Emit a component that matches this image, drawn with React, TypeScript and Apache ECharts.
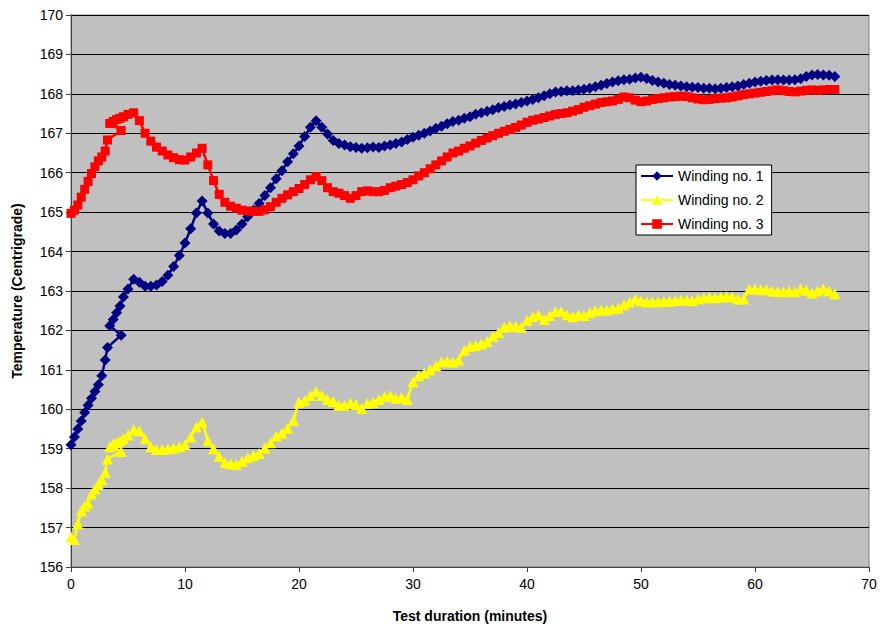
import React, { useEffect, useRef } from "react";
import * as echarts from "echarts";

const minutes = [
  0, 0.3, 0.6, 0.9, 1.2, 1.5, 1.8, 2.1, 2.4, 2.7, 3.0, 3.2, 4.4, 3.4, 3.7, 4.0, 4.3, 4.6,
  5.0, 5.5, 6.0, 6.5, 7.0, 7.5, 8.0, 8.5, 9.0, 9.5, 10.0, 10.5, 11.0, 11.5, 12.0, 12.5,
  13.0, 13.5, 14.0, 14.5, 15.0, 15.5, 16.0, 16.5, 17.0, 17.5, 18.0, 18.5, 19.0, 19.5,
  20.0, 20.5, 21.0, 21.5, 22.0, 22.5, 23.0, 23.5, 24.0, 24.5, 25.0, 25.5, 26.0, 26.5,
  27.0, 27.5, 28.0, 28.5, 29.0, 29.5, 30.0, 30.5, 31.0, 31.5, 32.0, 32.5, 33.0, 33.5,
  34.0, 34.5, 35.0, 35.5, 36.0, 36.5, 37.0, 37.5, 38.0, 38.5, 39.0, 39.5, 40.0, 40.5,
  41.0, 41.5, 42.0, 42.5, 43.0, 43.5, 44.0, 44.5, 45.0, 45.5, 46.0, 46.5, 47.0, 47.5,
  48.0, 48.5, 49.0, 49.5, 50.0, 50.5, 51.0, 51.5, 52.0, 52.5, 53.0, 53.5, 54.0, 54.5,
  55.0, 55.5, 56.0, 56.5, 57.0, 57.5, 58.0, 58.5, 59.0, 59.5, 60.0, 60.5, 61.0, 61.5,
  62.0, 62.5, 63.0, 63.5, 64.0, 64.5, 65.0, 65.5, 66.0, 66.5, 67.0,
];

const winding1 = [
  159.1, 159.3, 159.5, 159.7, 159.92, 160.1, 160.28, 160.45, 160.62, 160.85, 161.25, 161.57, 161.88, 162.12, 162.28, 162.45, 162.62, 162.85,
  163.05, 163.3, 163.22, 163.12, 163.12, 163.15, 163.24, 163.4, 163.62, 163.9, 164.22, 164.58, 164.98, 165.28, 164.98, 164.7,
  164.52, 164.46, 164.46, 164.55, 164.7, 164.88, 165.05, 165.22, 165.42, 165.62, 165.85, 166.05, 166.28, 166.48,
  166.68, 166.92, 167.15, 167.32, 167.15, 166.98, 166.82, 166.74, 166.7, 166.66, 166.64, 166.62, 166.63, 166.65,
  166.64, 166.68, 166.7, 166.74, 166.78, 166.84, 166.9, 166.95, 167.0, 167.06, 167.12, 167.18, 167.24, 167.3,
  167.33, 167.38, 167.42, 167.48, 167.52, 167.56, 167.6, 167.65, 167.68, 167.72, 167.74, 167.78, 167.82, 167.86,
  167.9, 167.95, 168.0, 168.05, 168.06, 168.08, 168.08, 168.1, 168.12, 168.14, 168.18, 168.22, 168.26, 168.3,
  168.33, 168.36, 168.37, 168.4, 168.42, 168.39, 168.34, 168.3, 168.27, 168.24, 168.22, 168.2, 168.18, 168.17,
  168.16, 168.14, 168.14, 168.13, 168.14, 168.16, 168.18, 168.2, 168.24, 168.27, 168.3, 168.32, 168.34, 168.35,
  168.36, 168.35, 168.35, 168.36, 168.38, 168.44, 168.48, 168.49, 168.48, 168.47, 168.44,
];

const winding2 = [
  156.77, 156.7, 157.1, 157.42, 157.55, 157.62, 157.85, 157.98, 158.1, 158.22, 158.4, 158.74, 158.93, 159.05, 159.12, 159.15, 159.2, 159.25,
  159.35, 159.48, 159.45, 159.25, 159.05, 158.98, 158.98, 159.0, 159.02, 159.05, 159.1, 159.3, 159.55, 159.68, 159.2, 159.0,
  158.8, 158.65, 158.62, 158.6, 158.68, 158.78, 158.82, 158.88, 159.02, 159.15, 159.32, 159.4, 159.52, 159.72,
  160.18, 160.22, 160.35, 160.45, 160.35, 160.25, 160.2, 160.1, 160.1, 160.15, 160.12, 160.02, 160.15, 160.18,
  160.25, 160.32, 160.35, 160.28, 160.3, 160.25, 160.7, 160.85, 160.92, 161.0, 161.1, 161.2, 161.22, 161.2,
  161.25, 161.5, 161.6, 161.62, 161.66, 161.72, 161.85, 161.95, 162.08, 162.12, 162.1, 162.08, 162.25, 162.35,
  162.4, 162.28, 162.38, 162.48, 162.48, 162.4, 162.35, 162.4, 162.38, 162.45, 162.5, 162.52, 162.52, 162.55,
  162.56, 162.65, 162.72, 162.8, 162.75, 162.72, 162.73, 162.73, 162.74, 162.74, 162.76, 162.77, 162.77, 162.75,
  162.8, 162.82, 162.84, 162.83, 162.85, 162.86, 162.85, 162.8, 162.8, 163.05, 163.05, 163.03, 163.04, 163.0,
  162.99, 162.98, 163.0, 162.98, 163.06, 163.02, 162.95, 163.0, 163.06, 163.0, 162.93,
];

const winding3 = [
  164.97, 165.05, 165.18, 165.38, 165.58, 165.78, 165.98, 166.15, 166.3, 166.4, 166.55, 166.83, 167.07, 167.25, 167.3, 167.35, 167.38, 167.42,
  167.48, 167.52, 167.32, 167.0, 166.8, 166.65, 166.55, 166.45, 166.38, 166.33, 166.32, 166.4, 166.5, 166.62, 166.2, 165.8,
  165.45, 165.25, 165.15, 165.1, 165.05, 165.03, 165.02, 165.02, 165.06, 165.14, 165.25, 165.35, 165.44, 165.52,
  165.6, 165.7, 165.82, 165.9, 165.8, 165.62, 165.52, 165.48, 165.42, 165.35, 165.42, 165.52, 165.54, 165.52,
  165.52, 165.55, 165.62, 165.66, 165.7, 165.75, 165.82, 165.92, 166.0, 166.1, 166.2, 166.3, 166.4, 166.5,
  166.55, 166.62, 166.68, 166.75, 166.82, 166.88, 166.94, 167.0, 167.05, 167.1, 167.15, 167.21, 167.28, 167.33,
  167.36, 167.4, 167.44, 167.48, 167.5, 167.52, 167.56, 167.6, 167.66, 167.7, 167.74, 167.78, 167.8, 167.82,
  167.86, 167.92, 167.9, 167.84, 167.8, 167.82, 167.86, 167.88, 167.9, 167.92, 167.93, 167.94, 167.93, 167.9,
  167.87, 167.85, 167.86, 167.88, 167.89, 167.9, 167.92, 167.95, 167.98, 168.0, 168.02, 168.04, 168.06, 168.08,
  168.1, 168.08, 168.06, 168.05, 168.07, 168.09, 168.1, 168.09, 168.1, 168.11, 168.11,
];

const seriesNames = ["Winding no. 1", "Winding no. 2", "Winding no. 3"];
const xTitle = "Test duration (minutes)";
const yTitle = "Temperature (Centrigrade)";

const FONT = "'Liberation Sans', Arial, sans-serif";

export default function App() {
  const ref = useRef<HTMLDivElement>(null);

  useEffect(() => {
    if (!ref.current) return;
    const chart = echarts.init(ref.current, null, { renderer: "svg" });
    const pairs = (vals: number[]) => minutes.map((m, i) => [m, vals[i]]);
    const mk = (name: string, vals: number[], color: string, symbol: string, size: number) => ({
      name,
      type: "line",
      data: pairs(vals),
      symbol,
      symbolSize: size,
      showAllSymbol: true,
      color,
      itemStyle: { color },
      lineStyle: { color, width: 2.5 },
      emphasis: { disabled: true },
    });
    chart.setOption({
      animation: false,
      backgroundColor: "#ffffff",
      textStyle: { fontFamily: FONT },
      grid: {
        left: 71,
        right: 11,
        top: 15,
        bottom: 61,
        show: true,
        backgroundColor: "#C0C0C0",
        borderColor: "#808080",
        borderWidth: 1,
      },
      legend: {
        orient: "vertical",
        left: 636,
        top: 165,
        backgroundColor: "#ffffff",
        borderColor: "#000000",
        borderWidth: 1,
        borderRadius: 0,
        padding: [4, 8, 4, 4],
        itemWidth: 32,
        itemHeight: 12,
        itemGap: 10,
        textStyle: { fontFamily: FONT, fontSize: 14, color: "#000" },
        data: seriesNames,
      },
      xAxis: {
        type: "value",
        min: 0,
        max: 70,
        interval: 10,
        name: xTitle,
        nameLocation: "middle",
        nameGap: 42,
        nameTextStyle: { fontFamily: FONT, fontSize: 14, fontWeight: "bold", color: "#000" },
        axisLine: { show: true, onZero: false, lineStyle: { color: "#404040", width: 1 } },
        axisTick: { show: true, length: 5, inside: false, lineStyle: { color: "#404040" } },
        axisLabel: { fontFamily: FONT, fontSize: 14, color: "#000", margin: 10 },
        splitLine: { show: false },
      },
      yAxis: {
        type: "value",
        min: 156,
        max: 170,
        interval: 1,
        name: yTitle,
        nameLocation: "middle",
        nameGap: 47,
        nameRotate: 90,
        nameTextStyle: { fontFamily: FONT, fontSize: 14, fontWeight: "bold", color: "#000" },
        axisLine: { show: true, onZero: false, lineStyle: { color: "#404040", width: 1 } },
        axisTick: { show: true, length: 5, inside: false, lineStyle: { color: "#404040" } },
        axisLabel: { fontFamily: FONT, fontSize: 14, color: "#000", margin: 8 },
        splitLine: { show: true, lineStyle: { color: "#000000", width: 1 } },
      },
      series: [
        mk(seriesNames[0], winding1, "#000080", "diamond", 11),
        mk(seriesNames[1], winding2, "#FFFF00", "triangle", 11),
        mk(seriesNames[2], winding3, "#FF0000", "rect", 9),
      ],
    });
    return () => chart.dispose();
  }, []);

  return (
    <div
      ref={ref}
      style={{ position: "fixed", left: 0, top: 0, width: 880, height: 628 }}
    />
  );
}
